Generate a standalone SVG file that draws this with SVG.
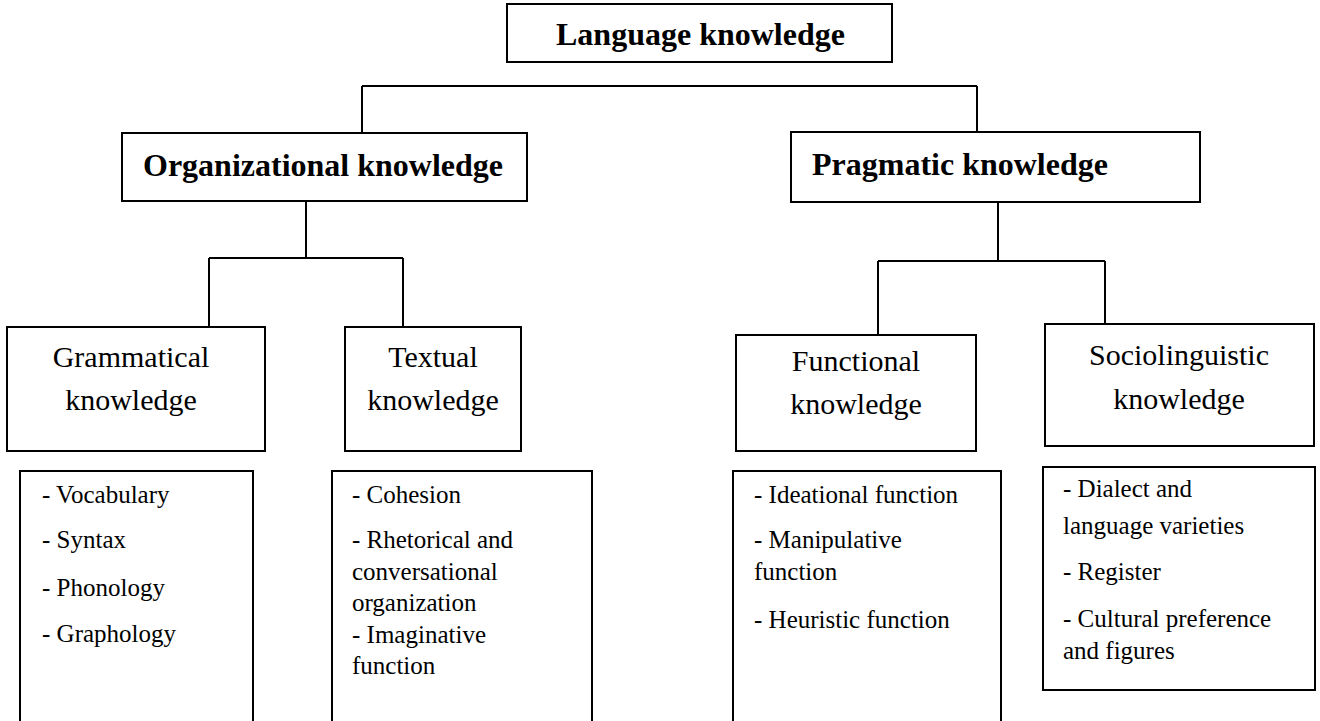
<svg xmlns="http://www.w3.org/2000/svg" width="1320" height="721" viewBox="0 0 1320 721">
  <style>
    .box { fill: #ffffff; stroke: #000000; stroke-width: 2; }
    .wire { fill: none; stroke: #000000; stroke-width: 2; }
    .head { font-family: "Liberation Serif", "Times New Roman", serif; font-weight: bold; font-size: 32px; fill: #000; }
    .sub { font-family: "Liberation Serif", "Times New Roman", serif; font-size: 30px; fill: #000; text-anchor: middle; }
    .item { font-family: "Liberation Serif", "Times New Roman", serif; font-size: 25px; fill: #000; }
  </style>
  <rect width="1320" height="721" fill="#ffffff"/>

  <g id="connectors">
    <path class="wire" d="M362 86 H977 M362 86 V133 M977 86 V132"/>
    <path class="wire" d="M306 201 V258 M209 258 H403 M209 258 V327 M403 258 V327"/>
    <path class="wire" d="M998 202 V261 M878 261 H1105 M878 261 V335 M1105 261 V324"/>
  </g>

  <g id="language-knowledge">
    <rect class="box" x="507" y="4" width="385" height="58"/>
    <text class="head" x="556" y="45">Language knowledge</text>
  </g>

  <g id="organizational-knowledge">
    <rect class="box" x="122" y="133" width="405" height="68"/>
    <text class="head" x="143" y="176">Organizational knowledge</text>
  </g>

  <g id="pragmatic-knowledge">
    <rect class="box" x="791" y="132" width="409" height="70"/>
    <text class="head" x="812" y="175">Pragmatic knowledge</text>
  </g>

  <g id="grammatical-knowledge">
    <rect class="box" x="7" y="327" width="258" height="124"/>
    <text class="sub" x="131" y="367">Grammatical</text>
    <text class="sub" x="131" y="410">knowledge</text>
  </g>

  <g id="textual-knowledge">
    <rect class="box" x="345" y="327" width="176" height="124"/>
    <text class="sub" x="433" y="367">Textual</text>
    <text class="sub" x="433" y="410">knowledge</text>
  </g>

  <g id="functional-knowledge">
    <rect class="box" x="736" y="335" width="240" height="116"/>
    <text class="sub" x="856" y="371">Functional</text>
    <text class="sub" x="856" y="414">knowledge</text>
  </g>

  <g id="sociolinguistic-knowledge">
    <rect class="box" x="1045" y="324" width="269" height="122"/>
    <text class="sub" x="1179" y="365">Sociolinguistic</text>
    <text class="sub" x="1179" y="409">knowledge</text>
  </g>

  <g id="grammatical-items">
    <path class="box" d="M20 721 V471 H253 V721"/>
    <text class="item" x="42" y="503">- Vocabulary</text>
    <text class="item" x="42" y="548">- Syntax</text>
    <text class="item" x="42" y="596">- Phonology</text>
    <text class="item" x="42" y="642">- Graphology</text>
  </g>

  <g id="textual-items">
    <path class="box" d="M332 721 V471 H592 V721"/>
    <text class="item" x="352" y="503">- Cohesion</text>
    <text class="item" x="352" y="548">- Rhetorical and</text>
    <text class="item" x="352" y="580">conversational</text>
    <text class="item" x="352" y="611">organization</text>
    <text class="item" x="352" y="643">- Imaginative</text>
    <text class="item" x="352" y="674">function</text>
  </g>

  <g id="functional-items">
    <path class="box" d="M733 721 V471 H1001 V721"/>
    <text class="item" x="754" y="503">- Ideational function</text>
    <text class="item" x="754" y="548">- Manipulative</text>
    <text class="item" x="754" y="580">function</text>
    <text class="item" x="754" y="628">- Heuristic function</text>
  </g>

  <g id="sociolinguistic-items">
    <rect class="box" x="1043" y="467" width="272" height="223"/>
    <text class="item" x="1063" y="497">- Dialect and</text>
    <text class="item" x="1063" y="534">language varieties</text>
    <text class="item" x="1063" y="580">- Register</text>
    <text class="item" x="1063" y="627">- Cultural preference</text>
    <text class="item" x="1063" y="659">and figures</text>
  </g>
</svg>
